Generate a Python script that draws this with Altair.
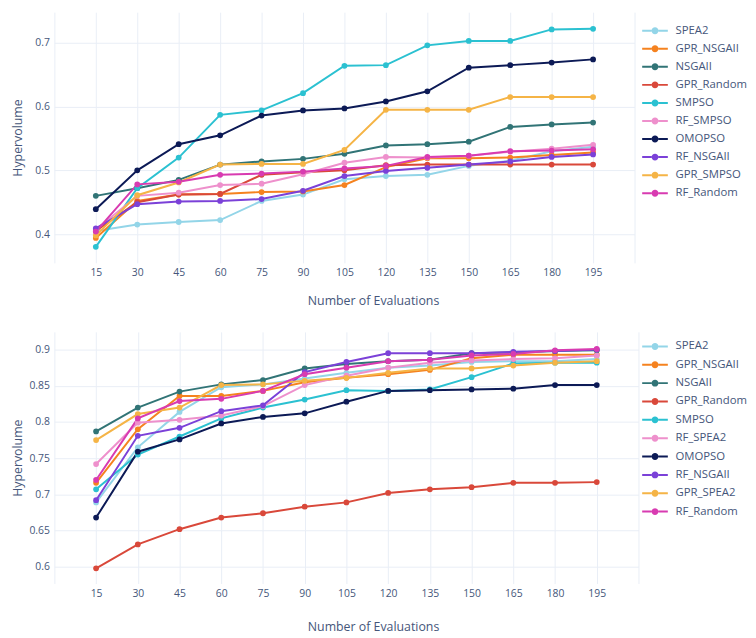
import altair as alt
import pandas as pd

evals = [15, 30, 45, 60, 75, 90, 105, 120, 135, 150, 165, 180, 195]

top_names = ["SPEA2", "GPR_NSGAII", "NSGAII", "GPR_Random", "SMPSO",
             "RF_SMPSO", "OMOPSO", "RF_NSGAII", "GPR_SMPSO", "RF_Random"]
bottom_names = ["SPEA2", "GPR_NSGAII", "NSGAII", "GPR_Random", "SMPSO",
                "RF_SPEA2", "OMOPSO", "RF_NSGAII", "GPR_SPEA2", "RF_Random"]
colors = ["#93d5e8", "#f5821f", "#317476", "#d9483a", "#2bc1d1",
          "#ee90cc", "#0c1a56", "#7b41d8", "#f5b446", "#d83bb1"]

# top panel
top_spea2 = [0.405, 0.415, 0.419, 0.422, 0.452, 0.462, 0.486, 0.491, 0.493, 0.507, 0.515, 0.530, 0.537]
top_gpr_nsgaii = [0.394, 0.452, 0.462, 0.463, 0.466, 0.467, 0.477, 0.505, 0.519, 0.519, 0.520, 0.524, 0.528]
top_nsgaii = [0.460, 0.472, 0.485, 0.509, 0.514, 0.518, 0.526, 0.539, 0.541, 0.545, 0.568, 0.572, 0.575]
top_gpr_random = [0.405, 0.450, 0.462, 0.463, 0.493, 0.497, 0.500, 0.508, 0.509, 0.509, 0.509, 0.509, 0.509]
top_smpso = [0.380, 0.472, 0.520, 0.587, 0.594, 0.621, 0.664, 0.665, 0.696, 0.703, 0.703, 0.721, 0.722]
top_rf_smpso = [0.407, 0.460, 0.465, 0.477, 0.479, 0.494, 0.512, 0.521, 0.520, 0.523, 0.529, 0.534, 0.540]
top_omopso = [0.439, 0.500, 0.541, 0.555, 0.586, 0.594, 0.597, 0.608, 0.624, 0.661, 0.665, 0.669, 0.674]
top_rf_nsgaii = [0.409, 0.447, 0.451, 0.452, 0.455, 0.468, 0.491, 0.499, 0.504, 0.509, 0.514, 0.521, 0.525]
top_gpr_smpso = [0.398, 0.461, 0.481, 0.509, 0.510, 0.510, 0.532, 0.595, 0.595, 0.595, 0.615, 0.615, 0.615]
top_rf_random = [0.404, 0.478, 0.482, 0.493, 0.495, 0.498, 0.503, 0.507, 0.521, 0.523, 0.530, 0.531, 0.533]

# bottom panel
bot_spea2 = [0.689, 0.765, 0.814, 0.848, 0.852, 0.860, 0.868, 0.875, 0.878, 0.883, 0.884, 0.884, 0.887]
bot_gpr_nsgaii = [0.716, 0.790, 0.836, 0.836, 0.843, 0.855, 0.861, 0.866, 0.872, 0.888, 0.893, 0.893, 0.893]
bot_nsgaii = [0.787, 0.820, 0.842, 0.852, 0.858, 0.874, 0.880, 0.884, 0.886, 0.895, 0.896, 0.898, 0.899]
bot_gpr_random = [0.598, 0.631, 0.652, 0.668, 0.674, 0.683, 0.689, 0.702, 0.707, 0.710, 0.716, 0.716, 0.717]
bot_smpso = [0.707, 0.755, 0.780, 0.805, 0.820, 0.831, 0.844, 0.843, 0.845, 0.862, 0.881, 0.882, 0.882]
bot_rf_spea2 = [0.742, 0.799, 0.803, 0.809, 0.822, 0.851, 0.864, 0.875, 0.882, 0.885, 0.887, 0.888, 0.892]
bot_omopso = [0.668, 0.759, 0.776, 0.798, 0.807, 0.812, 0.828, 0.843, 0.844, 0.845, 0.846, 0.851, 0.851]
bot_rf_nsgaii = [0.692, 0.781, 0.792, 0.815, 0.823, 0.869, 0.883, 0.895, 0.895, 0.895, 0.897, 0.898, 0.900]
bot_gpr_spea2 = [0.775, 0.811, 0.820, 0.851, 0.852, 0.857, 0.861, 0.868, 0.874, 0.874, 0.878, 0.882, 0.884]
bot_rf_random = [0.720, 0.805, 0.829, 0.832, 0.843, 0.866, 0.875, 0.884, 0.886, 0.892, 0.894, 0.899, 0.901]

top_values = [top_spea2, top_gpr_nsgaii, top_nsgaii, top_gpr_random, top_smpso,
              top_rf_smpso, top_omopso, top_rf_nsgaii, top_gpr_smpso, top_rf_random]
bot_values = [bot_spea2, bot_gpr_nsgaii, bot_nsgaii, bot_gpr_random, bot_smpso,
              bot_rf_spea2, bot_omopso, bot_rf_nsgaii, bot_gpr_spea2, bot_rf_random]

top_yticks = [0.4, 0.5, 0.6, 0.7]
bot_yticks = [0.6, 0.65, 0.7, 0.75, 0.8, 0.85, 0.9]
x_ticks = [0, 15, 30, 45, 60, 75, 90, 105, 120, 135, 150, 165, 180, 195, 210]


def to_long(names, values):
    rows = []
    for i, (n, vals) in enumerate(zip(names, values)):
        for e, v in zip(evals, vals):
            rows.append({"algo": n, "evals": e, "hv": v, "order": i})
    return pd.DataFrame(rows)


FONT = "Open Sans"
TXT = "#45567a"
GRID = "#e9eef6"
SYM = ("M-2.6,-0.2L-0.7,-0.2L-0.7,0.2L-2.6,0.2Z "
       "M0.7,-0.2L2.6,-0.2L2.6,0.2L0.7,0.2Z "
       "M0.7,0A0.7,0.7,0,1,1,-0.7,0A0.7,0.7,0,1,1,0.7,0Z")


def panel(names, values, ydom, yticks, width, height, xtitle_y, leg_y, row_pad):
    df = to_long(names, values)
    base = alt.Chart(df)
    x = alt.X("evals:Q",
              scale=alt.Scale(domain=[0, 210], nice=False, zero=False),
              axis=alt.Axis(values=x_ticks, title="Number of Evaluations",
                            labelExpr="datum.value == 0 || datum.value == 210 ? '' : datum.label",
                            titleX=323, titleY=xtitle_y, titleAlign="center",
                            titleBaseline="middle"))
    y = alt.Y("hv:Q",
              scale=alt.Scale(domain=ydom, nice=False, zero=False),
              axis=alt.Axis(values=yticks, format="~g", title="Hypervolume",
                            titleX=-37.5, titleY=height / 2, titleAngle=270,
                            titleAlign="center", titleBaseline="middle"))
    color = alt.Color("algo:N",
                      scale=alt.Scale(domain=names, range=colors),
                      legend=alt.Legend(title=None, orient="none",
                                        legendX=603, legendY=leg_y,
                                        symbolType=SYM, symbolSize=100,
                                        symbolStrokeWidth=0,
                                        labelFont=FONT, labelFontSize=11.5,
                                        labelColor=TXT, labelOffset=15,
                                        rowPadding=row_pad, padding=0))
    lines = base.mark_line(strokeWidth=2, clip=True).encode(
        x=x, y=y, color=color, order="evals:Q")
    pts = base.mark_circle(size=34, opacity=1, clip=True).encode(
        x=x, y=y, color=color)
    return alt.layer(lines, pts).properties(width=width, height=height)


top = panel(top_names, top_values, [0.355, 0.748], top_yticks, 588, 254, 38, 13, 5.3)
bottom = panel(bottom_names, bot_values, [0.577, 0.9245], bot_yticks, 592, 255, 44, 9, 5.6)

chart = alt.vconcat(top, bottom, spacing=25).resolve_scale(
    color="independent", x="independent", y="independent"
).properties(
    padding={"left": 3, "top": 0, "right": 0, "bottom": 0}
).configure_view(stroke=None).configure_axis(
    grid=True, gridColor=GRID, gridWidth=1, domain=False, ticks=False,
    labelFont=FONT, labelFontSize=10.5, labelColor=TXT, labelPadding=5,
    titleFont=FONT, titleFontSize=12.5, titleColor=TXT, titleFontWeight="normal"
)

chart.save("out.html", embed_options={"renderer": "svg", "actions": False})
